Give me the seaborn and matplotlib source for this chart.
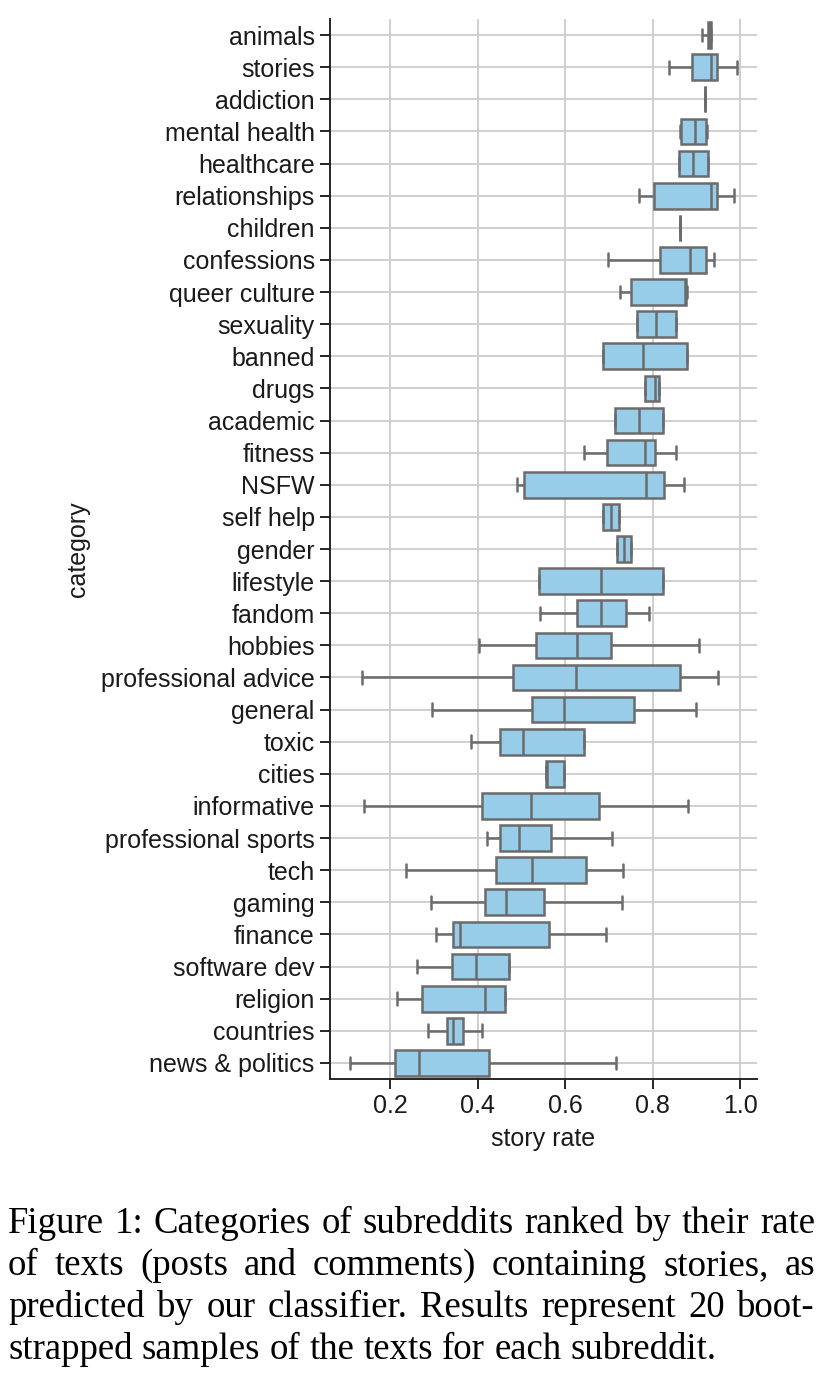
import numpy as np
import pandas as pd
import matplotlib
matplotlib.use('Agg')
import matplotlib.pyplot as plt
import seaborn as sns

# Categories, top to bottom
categories = ['animals', 'stories', 'addiction', 'mental health', 'healthcare',
              'relationships', 'children', 'confessions', 'queer culture',
              'sexuality', 'banned', 'drugs', 'academic', 'fitness', 'NSFW',
              'self help', 'gender', 'lifestyle', 'fandom', 'hobbies',
              'professional advice', 'general', 'toxic', 'cities', 'informative',
              'professional sports', 'tech', 'gaming', 'finance', 'software dev',
              'religion', 'countries', 'news & politics']

# five-number summary (min, q1, median, q3, max)
lo  = [0.913, 0.837, 0.919, 0.862, 0.861, 0.769, 0.862, 0.698, 0.725, 0.763,
       0.687, 0.782, 0.713, 0.643, 0.489, 0.687, 0.719, 0.540, 0.542, 0.404,
       0.136, 0.297, 0.384, 0.557, 0.141, 0.422, 0.236, 0.293, 0.304, 0.261,
       0.215, 0.286, 0.109]
q1  = [0.925, 0.889, 0.919, 0.864, 0.861, 0.803, 0.862, 0.817, 0.751, 0.763,
       0.687, 0.782, 0.713, 0.696, 0.505, 0.687, 0.719, 0.540, 0.626, 0.533,
       0.481, 0.525, 0.451, 0.557, 0.409, 0.452, 0.443, 0.417, 0.343, 0.342,
       0.274, 0.330, 0.211]
med = [0.929, 0.932, 0.919, 0.897, 0.893, 0.932, 0.862, 0.886, 0.873, 0.807,
       0.778, 0.805, 0.768, 0.783, 0.784, 0.704, 0.734, 0.681, 0.681, 0.628,
       0.624, 0.598, 0.504, 0.558, 0.522, 0.495, 0.525, 0.466, 0.360, 0.396,
       0.417, 0.344, 0.267]
q3  = [0.933, 0.947, 0.919, 0.921, 0.926, 0.946, 0.862, 0.921, 0.877, 0.852,
       0.878, 0.814, 0.824, 0.806, 0.826, 0.723, 0.751, 0.824, 0.740, 0.705,
       0.862, 0.757, 0.642, 0.597, 0.677, 0.568, 0.647, 0.552, 0.562, 0.471,
       0.462, 0.366, 0.426]
hi  = [0.933, 0.992, 0.919, 0.924, 0.926, 0.985, 0.862, 0.940, 0.878, 0.852,
       0.878, 0.814, 0.824, 0.854, 0.871, 0.723, 0.751, 0.824, 0.791, 0.906,
       0.949, 0.898, 0.642, 0.597, 0.881, 0.708, 0.732, 0.729, 0.694, 0.471,
       0.462, 0.411, 0.717]

caption_lines = [
    'Figure 1: Categories of subreddits ranked by their rate',
    'of texts (posts and comments) containing stories, as',
    'predicted by our classifier.  Results represent 20 boot-',
    'strapped samples of the texts for each subreddit.',
]

rows = []
for i, c in enumerate(categories):
    for v in (lo[i], q1[i], med[i], q3[i], hi[i]):
        rows.append({'category': c, 'story rate': v})
df = pd.DataFrame(rows)

sns.set_theme(style='ticks', rc={
    'axes.grid': True, 'grid.color': '#cccccc', 'grid.linewidth': 1.3,
    'axes.edgecolor': '#262626', 'axes.linewidth': 1.4,
    'xtick.major.size': 7, 'ytick.major.size': 7,
    'xtick.major.width': 1.4, 'ytick.major.width': 1.4,
    'xtick.color': '#262626', 'ytick.color': '#262626',
})
plt.rcParams['font.family'] = ['Liberation Sans', 'DejaVu Sans']

W, H = 832, 1390
fig = plt.figure(figsize=(W / 100, H / 100), dpi=100)
ax = fig.add_axes([330 / W, 1 - 1079 / H, (757 - 330) / W, (1079 - 19) / H])

sns.boxplot(data=df, x='story rate', y='category', order=categories,
            color='#98cde9', saturation=1, linecolor='#6b6b6b', linewidth=1.8,
            whis=(0, 100), width=0.8, ax=ax)

ax.set_xlim(0.063, 1.038)
ax.set_xticks([0.2, 0.4, 0.6, 0.8, 1.0])
ax.grid(True, axis='both', color='#cccccc', linewidth=1.3)
ax.tick_params(axis='both', labelsize=18, labelcolor='#1a1a1a', pad=4)
ax.set_xlabel('story rate', fontsize=18, color='#1a1a1a', labelpad=6)
ax.set_ylabel('category', fontsize=18, color='#1a1a1a', labelpad=8)
sns.despine(ax=ax)
ax.set_axisbelow(True)

# caption below, justified like the paper text
renderer = fig.canvas.get_renderer()
x_left, x_right = 8, 815
base_y = [1233, 1275, 1317, 1359]
for k, line in enumerate(caption_lines):
    words = [w for w in line.split(' ') if w]
    txts = [fig.text(0, 1 - base_y[k] / H, w, fontsize=26.5,
                     family='Liberation Serif', color='black', va='baseline')
            for w in words]
    widths = [t.get_window_extent(renderer).width for t in txts]
    if k < len(caption_lines) - 1:
        gap = (x_right - x_left - sum(widths)) / (len(words) - 1)
    else:
        gap = 26.5 * 0.25 * 100 / 72
    x = x_left
    for t, w in zip(txts, widths):
        t.set_x(x / W)
        x += w + gap

fig.savefig('out.png', dpi=100)
